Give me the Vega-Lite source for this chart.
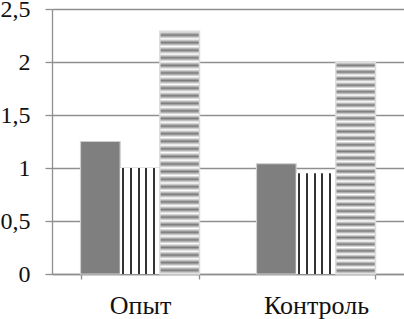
{
  "$schema": "https://vega.github.io/schema/vega-lite/v6.json",
  "width": 352,
  "height": 265,
  "autosize": {"type": "none"},
  "padding": {"left": 52, "top": 9, "right": 0, "bottom": 45},
  "background": "white",
  "config": {"view": {"stroke": null}, "font": "Liberation Serif"},
  "data": {
    "values": [
      {"group": "Опыт", "series": "A", "value": 1.25},
      {"group": "Опыт", "series": "B", "value": 1.0},
      {"group": "Опыт", "series": "C", "value": 2.29},
      {"group": "Контроль", "series": "A", "value": 1.04},
      {"group": "Контроль", "series": "B", "value": 0.95},
      {"group": "Контроль", "series": "C", "value": 2.0}
    ]
  },
  "encoding": {
    "x": {
      "field": "group",
      "type": "nominal",
      "sort": ["Опыт", "Контроль"],
      "scale": {"paddingInner": 0.324, "paddingOuter": 0.162},
      "axis": {
        "title": null,
        "labelAngle": 0,
        "labelFont": "Liberation Serif",
        "labelFontSize": 26,
        "labelColor": "#111111",
        "labelBaseline": "alphabetic",
        "labelPadding": 34,
        "tickBand": "extent",
        "tickSize": 5,
        "tickColor": "#8f8f8f",
        "tickWidth": 1.3,
        "domainColor": "#8f8f8f",
        "domainWidth": 1.3,
        "grid": false
      }
    },
    "xOffset": {
      "field": "series",
      "type": "nominal",
      "scale": {"domain": ["A", "B", "C"], "paddingInner": 0, "paddingOuter": 0}
    },
    "y": {
      "field": "value",
      "type": "quantitative",
      "scale": {"domain": [0, 2.5], "nice": false},
      "axis": {
        "title": null,
        "values": [0, 0.5, 1, 1.5, 2, 2.5],
        "labelExpr": "replace(toString(datum.value), '.', ',')",
        "labelFont": "Liberation Serif",
        "labelFontSize": 24,
        "labelColor": "#111111",
        "labelPadding": 15,
        "tickSize": 7,
        "tickColor": "#8f8f8f",
        "tickWidth": 1.3,
        "domainColor": "#8f8f8f",
        "domainWidth": 1.3,
        "grid": true,
        "gridColor": "#8f8f8f",
        "gridWidth": 1.3
      }
    }
  },
  "layer": [
    {
      "transform": [{"filter": "datum.series === 'A'"}],
      "mark": {"type": "bar", "fill": "#7f7f7f", "stroke": "#cfcfcf", "strokeWidth": 1.2}
    },
    {
      "transform": [{"filter": "datum.series === 'B'"}],
      "mark": {
        "type": "bar",
        "fill": {
          "gradient": "linear",
          "x1": 0, "x2": 1, "y1": 0, "y2": 0,
          "stops": [
            {"offset": 0, "color": "#ffffff"},
            {"offset": 0.053, "color": "#ffffff"},
            {"offset": 0.053, "color": "#333333"},
            {"offset": 0.103, "color": "#333333"},
            {"offset": 0.103, "color": "#ffffff"},
            {"offset": 0.244, "color": "#ffffff"},
            {"offset": 0.244, "color": "#333333"},
            {"offset": 0.294, "color": "#333333"},
            {"offset": 0.294, "color": "#ffffff"},
            {"offset": 0.438, "color": "#ffffff"},
            {"offset": 0.438, "color": "#333333"},
            {"offset": 0.488, "color": "#333333"},
            {"offset": 0.488, "color": "#ffffff"},
            {"offset": 0.632, "color": "#ffffff"},
            {"offset": 0.632, "color": "#333333"},
            {"offset": 0.682, "color": "#333333"},
            {"offset": 0.682, "color": "#ffffff"},
            {"offset": 0.824, "color": "#ffffff"},
            {"offset": 0.824, "color": "#333333"},
            {"offset": 0.874, "color": "#333333"},
            {"offset": 0.874, "color": "#ffffff"},
            {"offset": 1, "color": "#ffffff"}
          ]
        }
      }
    },
    {
      "transform": [{"filter": "datum.series === 'C'"}],
      "mark": {
        "type": "bar",
        "stroke": "#dcdcdc",
        "strokeWidth": 1.5,
        "fill": {
          "gradient": "linear",
          "x1": 0, "x2": 0, "y1": 0, "y2": 1,
          "stops": [
            {"offset": 0, "color": "#ffffff"},
            {"offset": 0.015625, "color": "#7a7a7a"},
            {"offset": 0.03125, "color": "#ffffff"},
            {"offset": 0.046875, "color": "#7a7a7a"},
            {"offset": 0.0625, "color": "#ffffff"},
            {"offset": 0.078125, "color": "#7a7a7a"},
            {"offset": 0.09375, "color": "#ffffff"},
            {"offset": 0.109375, "color": "#7a7a7a"},
            {"offset": 0.125, "color": "#ffffff"},
            {"offset": 0.140625, "color": "#7a7a7a"},
            {"offset": 0.15625, "color": "#ffffff"},
            {"offset": 0.171875, "color": "#7a7a7a"},
            {"offset": 0.1875, "color": "#ffffff"},
            {"offset": 0.203125, "color": "#7a7a7a"},
            {"offset": 0.21875, "color": "#ffffff"},
            {"offset": 0.234375, "color": "#7a7a7a"},
            {"offset": 0.25, "color": "#ffffff"},
            {"offset": 0.265625, "color": "#7a7a7a"},
            {"offset": 0.28125, "color": "#ffffff"},
            {"offset": 0.296875, "color": "#7a7a7a"},
            {"offset": 0.3125, "color": "#ffffff"},
            {"offset": 0.328125, "color": "#7a7a7a"},
            {"offset": 0.34375, "color": "#ffffff"},
            {"offset": 0.359375, "color": "#7a7a7a"},
            {"offset": 0.375, "color": "#ffffff"},
            {"offset": 0.390625, "color": "#7a7a7a"},
            {"offset": 0.40625, "color": "#ffffff"},
            {"offset": 0.421875, "color": "#7a7a7a"},
            {"offset": 0.4375, "color": "#ffffff"},
            {"offset": 0.453125, "color": "#7a7a7a"},
            {"offset": 0.46875, "color": "#ffffff"},
            {"offset": 0.484375, "color": "#7a7a7a"},
            {"offset": 0.5, "color": "#ffffff"},
            {"offset": 0.515625, "color": "#7a7a7a"},
            {"offset": 0.53125, "color": "#ffffff"},
            {"offset": 0.546875, "color": "#7a7a7a"},
            {"offset": 0.5625, "color": "#ffffff"},
            {"offset": 0.578125, "color": "#7a7a7a"},
            {"offset": 0.59375, "color": "#ffffff"},
            {"offset": 0.609375, "color": "#7a7a7a"},
            {"offset": 0.625, "color": "#ffffff"},
            {"offset": 0.640625, "color": "#7a7a7a"},
            {"offset": 0.65625, "color": "#ffffff"},
            {"offset": 0.671875, "color": "#7a7a7a"},
            {"offset": 0.6875, "color": "#ffffff"},
            {"offset": 0.703125, "color": "#7a7a7a"},
            {"offset": 0.71875, "color": "#ffffff"},
            {"offset": 0.734375, "color": "#7a7a7a"},
            {"offset": 0.75, "color": "#ffffff"},
            {"offset": 0.765625, "color": "#7a7a7a"},
            {"offset": 0.78125, "color": "#ffffff"},
            {"offset": 0.796875, "color": "#7a7a7a"},
            {"offset": 0.8125, "color": "#ffffff"},
            {"offset": 0.828125, "color": "#7a7a7a"},
            {"offset": 0.84375, "color": "#ffffff"},
            {"offset": 0.859375, "color": "#7a7a7a"},
            {"offset": 0.875, "color": "#ffffff"},
            {"offset": 0.890625, "color": "#7a7a7a"},
            {"offset": 0.90625, "color": "#ffffff"},
            {"offset": 0.921875, "color": "#7a7a7a"},
            {"offset": 0.9375, "color": "#ffffff"},
            {"offset": 0.953125, "color": "#7a7a7a"},
            {"offset": 0.96875, "color": "#ffffff"},
            {"offset": 0.984375, "color": "#7a7a7a"},
            {"offset": 1, "color": "#ffffff"}
          ]
        }
      }
    }
  ]
}
